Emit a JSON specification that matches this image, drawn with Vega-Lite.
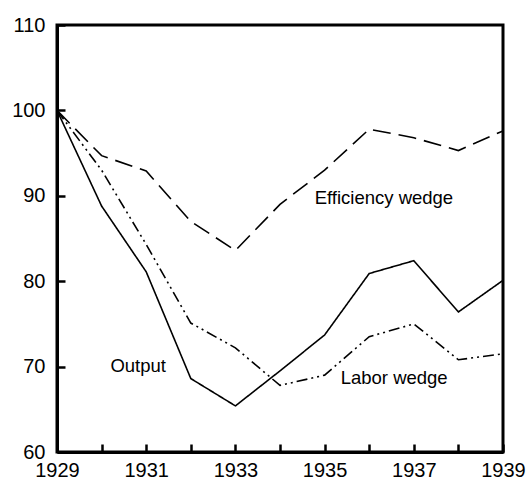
{
  "$schema": "https://vega.github.io/schema/vega-lite/v6.json",
  "autosize": {"type": "none"},
  "width": 446,
  "height": 427,
  "padding": {"left": 57, "top": 25, "right": 27, "bottom": 33},
  "background": "white",
  "config": {
    "view": {"stroke": "black", "strokeWidth": 3},
    "font": "Liberation Sans",
    "axis": {
      "domainColor": "black",
      "domainWidth": 3,
      "tickColor": "black",
      "tickWidth": 2.5,
      "tickSize": -8,
      "labelFont": "Liberation Sans",
      "labelFontSize": 20,
      "labelColor": "black",
      "grid": false,
      "title": null
    }
  },
  "datasets": {
    "series": [
      {"year": 1929, "value": 100, "series": "Output"},
      {"year": 1930, "value": 88.8, "series": "Output"},
      {"year": 1931, "value": 81.1, "series": "Output"},
      {"year": 1932, "value": 68.6, "series": "Output"},
      {"year": 1933, "value": 65.4, "series": "Output"},
      {"year": 1934, "value": 69.5, "series": "Output"},
      {"year": 1935, "value": 73.7, "series": "Output"},
      {"year": 1936, "value": 80.9, "series": "Output"},
      {"year": 1937, "value": 82.4, "series": "Output"},
      {"year": 1938, "value": 76.4, "series": "Output"},
      {"year": 1939, "value": 80.1, "series": "Output"},
      {"year": 1929, "value": 100, "series": "Labor"},
      {"year": 1930, "value": 93.0, "series": "Labor"},
      {"year": 1931, "value": 84.3, "series": "Labor"},
      {"year": 1932, "value": 75.1, "series": "Labor"},
      {"year": 1933, "value": 72.2, "series": "Labor"},
      {"year": 1934, "value": 67.8, "series": "Labor"},
      {"year": 1935, "value": 69.0, "series": "Labor"},
      {"year": 1936, "value": 73.5, "series": "Labor"},
      {"year": 1937, "value": 75.0, "series": "Labor"},
      {"year": 1938, "value": 70.8, "series": "Labor"},
      {"year": 1939, "value": 71.5, "series": "Labor"},
      {"year": 1929, "value": 100, "series": "Efficiency"},
      {"year": 1930, "value": 94.7, "series": "Efficiency"},
      {"year": 1931, "value": 92.9, "series": "Efficiency"},
      {"year": 1932, "value": 87.0, "series": "Efficiency"},
      {"year": 1933, "value": 83.6, "series": "Efficiency"},
      {"year": 1934, "value": 89.0, "series": "Efficiency"},
      {"year": 1935, "value": 93.0, "series": "Efficiency"},
      {"year": 1936, "value": 97.8, "series": "Efficiency"},
      {"year": 1937, "value": 96.8, "series": "Efficiency"},
      {"year": 1938, "value": 95.3, "series": "Efficiency"},
      {"year": 1939, "value": 97.6, "series": "Efficiency"}
    ],
    "labels": [
      {"year": 1936.33, "value": 89.7, "text": "Efficiency wedge"},
      {"year": 1930.82, "value": 70.1, "text": "Output"},
      {"year": 1936.56, "value": 68.7, "text": "Labor wedge"}
    ]
  },
  "layer": [
    {
      "data": {"name": "series"},
      "mark": {"type": "line", "color": "black", "strokeWidth": 1.6},
      "encoding": {
        "x": {
          "field": "year", "type": "quantitative",
          "scale": {"domain": [1929, 1939], "nice": false, "zero": false},
          "axis": {
            "values": [1929, 1930, 1931, 1932, 1933, 1934, 1935, 1936, 1937, 1938, 1939],
            "format": "d",
            "labelExpr": "datum.value % 2 == 1 ? datum.label : ''",
            "labelPadding": 16,
            "labelFlush": false
          }
        },
        "y": {
          "field": "value", "type": "quantitative",
          "scale": {"domain": [60, 110], "nice": false, "zero": false},
          "axis": {"values": [60, 70, 80, 90, 100, 110], "labelPadding": 20}
        },
        "detail": {"field": "series"},
        "strokeDash": {
          "field": "series", "type": "nominal",
          "scale": {
            "domain": ["Output", "Labor", "Efficiency"],
            "range": [[1, 0], [11, 4, 2, 4, 2, 4], [18, 8]]
          },
          "legend": null
        }
      }
    },
    {
      "data": {"name": "labels"},
      "mark": {"type": "text", "font": "Liberation Sans", "fontSize": 18.5, "color": "black", "align": "center", "baseline": "middle"},
      "encoding": {
        "x": {"field": "year", "type": "quantitative"},
        "y": {"field": "value", "type": "quantitative"},
        "text": {"field": "text"}
      }
    }
  ]
}
